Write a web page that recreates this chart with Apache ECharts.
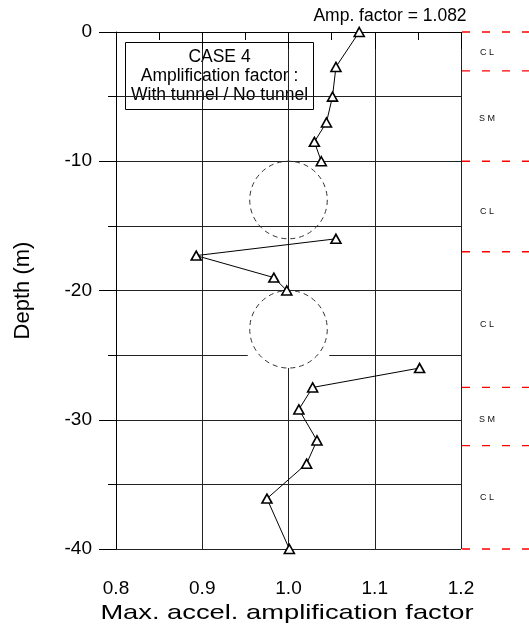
<!DOCTYPE html>
<html>
<head>
<meta charset="utf-8">
<script src="https://cdn.jsdelivr.net/npm/echarts@6/dist/echarts.min.js"></script>
<style>
  html, body { margin: 0; padding: 0; background: #fff; }
  #chart { width: 529px; height: 627px; }
</style>
</head>
<body>
<div id="chart"></div>
<script>
// amplification factor (with tunnel / no tunnel) vs depth
const ampFactor = [1.082, 1.055, 1.051, 1.044, 1.030, 1.038, 1.055, 0.893, 0.983, 0.998, 1.152, 1.028, 1.012, 1.033, 1.021, 0.975, 1.001];
const depth = [0, -2.7, -5, -7, -8.5, -10, -16, -17.3, -19, -20, -26, -27.5, -29.2, -31.6, -33.4, -36.1, -40];
// the profile line is broken across each tunnel
const breakAfter = [5, 9];

// soil layers
const layerBounds = [0, -3, -10, -17, -27.5, -32, -40];
const soilNames = ["CL", "SM", "CL", "CL", "SM", "CL"];
const soilDepth = [-1.6, -6.7, -13.9, -22.6, -30, -36];

// tunnels: centre depth, radius (m), masked background
const tunnelDepth = [-13, -23];
const tunnelRadius = 3;
const tunnelMask = [false, true];

const xTicks = [0.8, 0.9, 1.0, 1.1, 1.2];
const yTicks = [0, -10, -20, -30, -40];

const FONT = "Liberation Sans, Arial, sans-serif";

const lineData = [];
ampFactor.forEach((v, i) => {
  lineData.push([v, depth[i]]);
  if (breakAfter.includes(i)) lineData.push(["-", "-"]);
});

const chart = echarts.init(document.getElementById("chart"));

chart.setOption({
  animation: false,
  backgroundColor: "#fff",
  grid: { left: 116, top: 32, width: 345, height: 517 },
  xAxis: {
    type: "value",
    min: xTicks[0],
    max: xTicks[xTicks.length - 1],
    interval: 0.1,
    axisLine: { lineStyle: { color: "#000", width: 1 } },
    axisTick: { length: 17, lineStyle: { color: "#000" } },
    minorTick: { show: true, splitNumber: 2, length: 8, lineStyle: { color: "#000" } },
    axisLabel: {
      margin: 30, fontFamily: FONT, fontSize: 19, color: "#000",
      formatter: (v) => v.toFixed(1)
    },
    splitLine: { show: true, lineStyle: { color: "#222", width: 1 } }
  },
  yAxis: {
    type: "value",
    min: yTicks[yTicks.length - 1],
    max: yTicks[0],
    interval: 10,
    name: "Depth (m)",
    nameLocation: "middle",
    nameGap: 82,
    nameTextStyle: { fontFamily: FONT, fontSize: 22, color: "#000" },
    axisLine: { show: true, lineStyle: { color: "#000", width: 1 } },
    axisTick: { length: 17, lineStyle: { color: "#000" } },
    minorTick: { show: true, splitNumber: 2, length: 8, lineStyle: { color: "#000" } },
    axisLabel: { margin: 24, fontFamily: FONT, fontSize: 19, color: "#000" },
    splitLine: { show: true, lineStyle: { color: "#222", width: 1 } },
    minorSplitLine: { show: true, lineStyle: { color: "#222", width: 1 } }
  },
  series: [
    {
      // tunnel outlines
      type: "custom",
      z: 1,
      clip: false,
      data: tunnelDepth.map((d, i) => [1.0, d, tunnelMask[i] ? 1 : 0]),
      renderItem: (params, api) => {
        const c = api.coord([api.value(0), api.value(1)]);
        const r = api.size([0, tunnelRadius])[1];
        const children = [];
        if (api.value(2)) {
          children.push({
            type: "rect",
            shape: { x: c[0] - r - 2, y: c[1] - r + 1, width: 2 * r + 4, height: 2 * r - 1 },
            style: { fill: "#fff" }
          });
        }
        children.push({
          type: "circle",
          shape: { cx: c[0], cy: c[1], r: r },
          style: { fill: null, stroke: "#333", lineWidth: 1, lineDash: [5, 4] }
        });
        return { type: "group", children: children };
      }
    },
    {
      type: "line",
      z: 3,
      data: lineData,
      connectNulls: false,
      symbol: "triangle",
      symbolSize: [10, 9],
      lineStyle: { color: "#000", width: 1 },
      itemStyle: { color: "#fff", borderColor: "#000", borderWidth: 1.6 }
    },
    {
      // layer boundaries (right of the plot)
      type: "custom",
      clip: false,
      data: layerBounds.map((d) => [1.2, d]),
      renderItem: (params, api) => {
        const p = api.coord([api.value(0), api.value(1)]);
        return {
          type: "line",
          shape: { x1: p[0] + 1, y1: p[1], x2: p[0] + 70, y2: p[1] },
          style: { stroke: "#ff0000", lineWidth: 1.3, lineDash: [8, 12] }
        };
      }
    },
    {
      // soil type labels
      type: "custom",
      clip: false,
      data: soilNames.map((n, i) => [1.2, soilDepth[i]]),
      renderItem: (params, api) => {
        const p = api.coord([api.value(0), api.value(1)]);
        return {
          type: "text",
          x: p[0] + 26,
          y: p[1],
          style: {
            text: soilNames[params.dataIndex].split("").join(" "),
            fill: "#111",
            font: "9px " + FONT,
            textAlign: "center",
            textVerticalAlign: "middle"
          }
        };
      }
    }
  ],
  graphic: [
    {
      type: "text",
      x: 390,
      y: 16,
      style: {
        text: "Amp. factor = " + ampFactor[0].toFixed(3), fill: "#000",
        font: "17.5px " + FONT, textAlign: "center", textVerticalAlign: "middle"
      }
    },
    {
      // x-axis title
      type: "text",
      x: 287,
      y: 613,
      scaleX: 1.3,
      style: {
        text: "Max. accel. amplification factor", fill: "#000",
        font: "21px " + FONT, textAlign: "center", textVerticalAlign: "middle"
      }
    },
    {
      type: "group",
      left: 125,
      top: 42,
      children: [
        {
          type: "rect",
          shape: { x: 0, y: 0, width: 188, height: 67 },
          style: { fill: "#fff", stroke: "#000", lineWidth: 1 }
        },
        {
          type: "text",
          x: 94,
          y: 5,
          style: {
            text: "CASE 4\nAmplification factor :\nWith tunnel / No tunnel",
            fill: "#000",
            font: "17.5px " + FONT,
            lineHeight: 19,
            textAlign: "center"
          }
        }
      ]
    }
  ]
});
</script>
</body>
</html>
